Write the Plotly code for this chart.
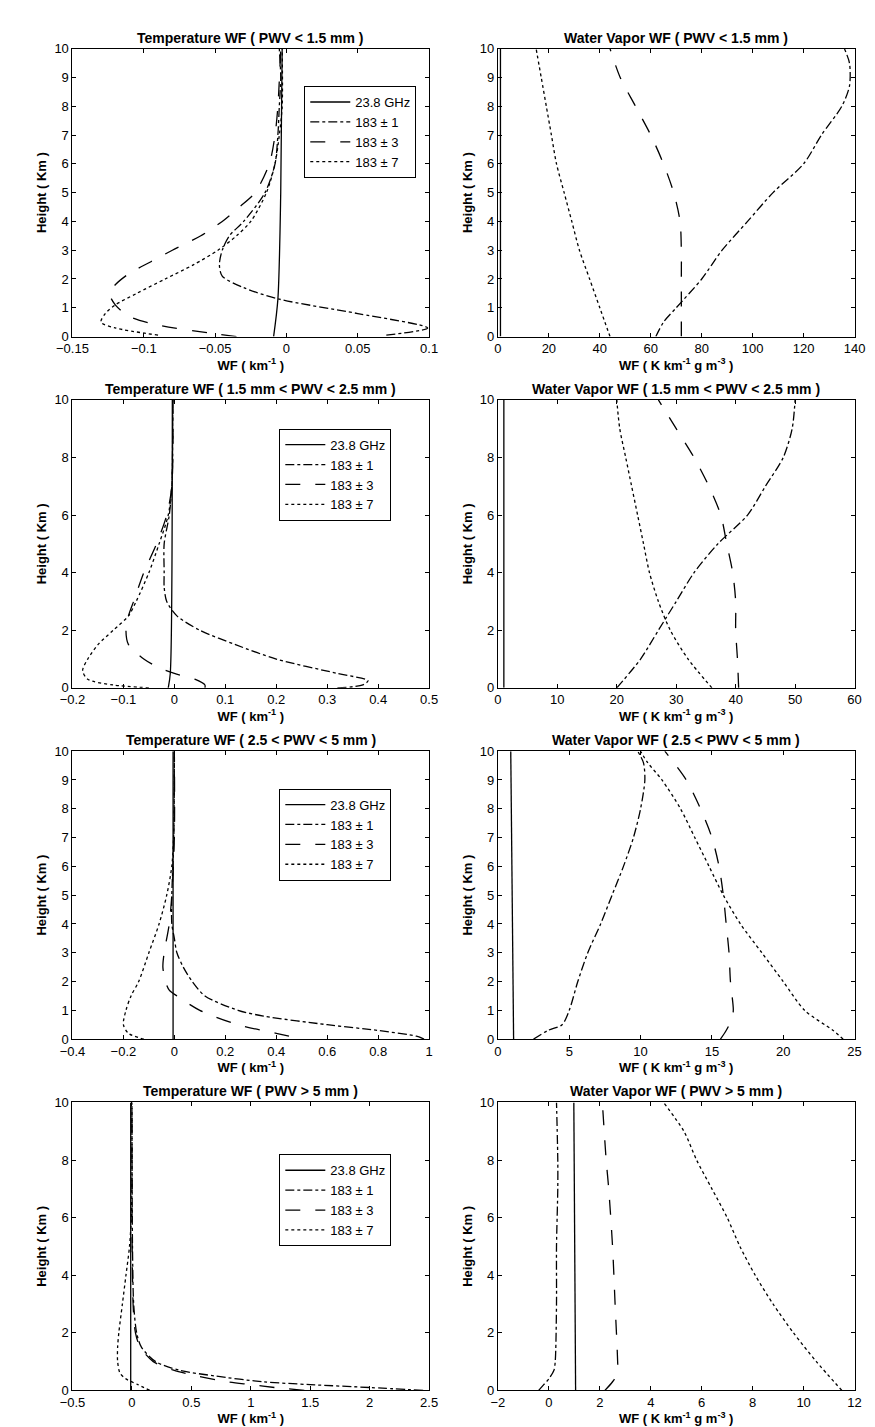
import plotly.graph_objects as go

W, H = 875, 1427
names = ["23.8 GHz", "183 ± 1", "183 ± 3", "183 ± 7"]
dashes = ["solid", "dashdot", "longdash", "dot"]

# ---- Row 1 temperature (PWV < 1.5 mm)
t1_h = {
 0: [0, 1.3, 5, 10],
 1: [0.05, 0.3, 0.8, 1.3, 1.7, 2.1, 2.5, 3, 3.5, 4, 5, 6, 7, 8, 9, 10],
 2: [0, 0.1, 0.4, 0.7, 1.1, 1.5, 1.8, 2.2, 2.6, 3, 3.5, 4, 4.5, 5, 6, 7, 8, 10],
 3: [0.05, 0.3, 0.5, 0.8, 1.1, 1.5, 2, 2.5, 3, 3.5, 4, 5, 6, 7, 8, 10]}
t1_x = {
 0: [-0.009, -0.006, -0.004, -0.003],
 1: [0.07, 0.099, 0.05, -0.005, -0.03, -0.045, -0.047, -0.045, -0.04, -0.03, -0.015, -0.008, -0.006, -0.005, -0.004, -0.005],
 2: [-0.035, -0.05, -0.09, -0.11, -0.12, -0.124, -0.12, -0.11, -0.095, -0.08, -0.06, -0.045, -0.033, -0.022, -0.012, -0.008, -0.006, -0.004],
 3: [-0.09, -0.12, -0.13, -0.127, -0.12, -0.105, -0.085, -0.065, -0.048, -0.035, -0.025, -0.014, -0.008, -0.005, -0.003, -0.003]}

# ---- Row 1 water vapor
w1_h = {
 0: [0, 10],
 1: [0, 0.5, 1, 2, 3, 4, 5, 6, 7, 8, 8.7, 9.5, 10],
 2: [0, 2, 3, 4, 5, 6, 7, 8, 9, 10],
 3: [0, 1, 2, 3, 4, 5, 6, 7, 8, 9, 10]}
w1_x = {
 0: [1, 1],
 1: [62, 65, 70, 80, 88, 98, 108, 120, 127, 135, 138, 138, 136],
 2: [72, 72, 72, 71.5, 69, 65, 60, 54, 48, 44],
 3: [44, 40, 36, 32, 29, 26, 23, 21, 19, 17, 15]}

# ---- Row 2 temperature (1.5 < PWV < 2.5)
t2_h = {
 0: [0, 0.5, 10],
 1: [0, 0.1, 0.25, 0.5, 1, 1.5, 2, 2.5, 3, 3.5, 4, 5, 6, 7, 10],
 2: [0, 0.1, 0.3, 0.5, 0.7, 1, 1.5, 2, 2.5, 3, 4, 5, 6, 7, 10],
 3: [0, 0.1, 0.3, 0.6, 1, 1.5, 2, 2.5, 3, 4, 5, 6, 7, 10]}
t2_x = {
 0: [-0.012, -0.008, -0.004],
 1: [0.32, 0.37, 0.38, 0.32, 0.2, 0.12, 0.05, 0.005, -0.015, -0.02, -0.02, -0.02, -0.01, -0.005, -0.003],
 2: [0.06, 0.06, 0.04, 0.0, -0.03, -0.06, -0.09, -0.095, -0.09, -0.08, -0.06, -0.035, -0.015, -0.005, -0.003],
 3: [-0.05, -0.12, -0.17, -0.18, -0.17, -0.15, -0.12, -0.09, -0.075, -0.05, -0.03, -0.012, -0.005, -0.003]}

# ---- Row 2 water vapor
hh = [0, 1, 2, 3, 4, 5, 6, 7, 8, 9, 10]
w2_h = {0: [0, 10], 1: hh, 2: hh, 3: hh}
w2_x = {
 0: [1, 1],
 1: [20, 24, 27, 30, 33, 37, 42, 45, 48, 49.5, 50],
 2: [40.5, 40.3, 40, 40, 39.5, 38.5, 37.5, 35.5, 33, 30, 27],
 3: [36, 32, 29, 27, 25.5, 24.5, 23.5, 22.5, 21.5, 20.5, 20]}

# ---- Row 3 temperature (2.5 < PWV < 5)
t3_h = {
 0: [0, 10],
 1: [0, 0.1, 0.3, 0.5, 0.8, 1, 1.5, 2, 2.5, 3, 3.5, 4, 5, 7, 10],
 2: [0.1, 0.2, 0.5, 1, 1.5, 1.7, 2, 2.5, 3, 4, 5, 7, 10],
 3: [0, 0.2, 0.5, 1, 1.5, 2, 3, 4, 5, 6, 7, 10]}
t3_x = {
 0: [-0.005, -0.005],
 1: [0.98, 0.95, 0.8, 0.6, 0.35, 0.25, 0.12, 0.07, 0.035, 0.01, 0.0, -0.01, -0.01, -0.002, 0],
 2: [0.45, 0.4, 0.25, 0.1, 0.01, -0.02, -0.035, -0.045, -0.04, -0.02, -0.01, 0, 0],
 3: [-0.12, -0.18, -0.2, -0.19, -0.17, -0.14, -0.1, -0.06, -0.03, -0.01, -0.003, 0]}

# ---- Row 3 water vapor
w3_h = {
 0: [0, 10],
 1: [0, 0.3, 0.5, 1, 2, 3, 4, 5, 6, 7, 8, 9, 9.6, 10],
 2: [0, 0.3, 0.7, 1, 2, 3, 4, 5, 6, 7, 8, 9, 10],
 3: [0, 0.3, 1, 2, 3, 4, 5, 6, 7, 8, 9, 9.6, 10]}
w3_x = {
 0: [1.1, 0.9],
 1: [2.5, 3.5, 4.5, 5, 5.6, 6.3, 7.2, 8.0, 8.8, 9.5, 10, 10.3, 10.2, 9.8],
 2: [15.6, 16, 16.4, 16.5, 16.3, 16.2, 16, 15.8, 15.5, 15, 14.2, 13.2, 11.7],
 3: [24.2, 23.5, 21.5, 20, 18.5, 17, 15.8, 14.8, 13.8, 12.8, 11.5, 10.5, 10]}

# ---- Row 4 temperature (PWV > 5)
t4_h = {
 0: [0, 10],
 1: [0, 0.1, 0.2, 0.3, 0.5, 0.7, 1, 1.5, 2, 3, 5, 10],
 2: [0, 0.1, 0.2, 0.3, 0.5, 0.7, 1, 1.5, 2, 3, 10],
 3: [0, 0.2, 0.4, 0.6, 1, 1.5, 2, 3, 4, 5, 6, 7, 10]}
t4_x = {
 0: [-0.01, -0.01],
 1: [2.45, 2.0, 1.5, 1.1, 0.7, 0.4, 0.2, 0.08, 0.04, 0.015, 0.005, 0],
 2: [1.45, 1.2, 1.0, 0.8, 0.55, 0.35, 0.18, 0.07, 0.03, 0.01, 0],
 3: [0.15, 0.05, -0.05, -0.1, -0.12, -0.12, -0.11, -0.08, -0.05, -0.02, -0.005, 0, 0]}

# ---- Row 4 water vapor
w4_h = {
 0: [0, 10],
 1: [0, 0.2, 0.4, 0.7, 1, 3, 5, 7, 8, 10],
 2: [0, 0.3, 0.6, 1, 3, 5, 7, 8, 10],
 3: hh}
w4_x = {
 0: [1.05, 0.98],
 1: [-0.4, -0.2, 0.0, 0.2, 0.25, 0.3, 0.3, 0.35, 0.35, 0.3],
 2: [2.2, 2.5, 2.7, 2.7, 2.6, 2.5, 2.35, 2.25, 2.1],
 3: [11.5, 10.5, 9.6, 8.8, 8.1, 7.5, 7.0, 6.4, 5.8, 5.3, 4.5]}

titles_t = ["Temperature WF ( PWV < 1.5 mm )", "Temperature WF ( 1.5 mm < PWV < 2.5 mm )",
            "Temperature WF ( 2.5 < PWV < 5 mm )", "Temperature WF ( PWV > 5 mm )"]
titles_w = ["Water Vapor WF ( PWV < 1.5 mm )", "Water Vapor WF ( 1.5 mm < PWV < 2.5 mm )",
            "Water Vapor WF ( 2.5 < PWV < 5 mm )", "Water Vapor WF ( PWV > 5 mm )"]
t_ranges = [[-0.15, 0.1], [-0.2, 0.5], [-0.4, 1], [-0.5, 2.5]]
t_dticks = [0.05, 0.1, 0.2, 0.5]
w_ranges = [[0, 140], [0, 60], [0, 25], [-2, 12]]
w_dticks = [20, 10, 5, 2]
y_dticks = [1, 2, 1, 2]
leg_x = [0.65, 0.58, 0.58, 0.58]
leg_y = [0.87, 0.9, 0.87, 0.82]

temp_data = [(t1_h, t1_x), (t2_h, t2_x), (t3_h, t3_x), (t4_h, t4_x)]
wv_data = [(w1_h, w1_x), (w2_h, w2_x), (w3_h, w3_x), (w4_h, w4_x)]

fig = go.Figure()
FONT = "Liberation Sans, Arial, sans-serif"
xl = [50 / W, 418 / W]
xr = [489 / W, 857 / W]
annotations = []

def axis_common():
    return dict(showline=True, linecolor="black", linewidth=1, mirror="ticks",
                ticks="inside", ticklen=4, tickcolor="black", showgrid=False,
                zeroline=False, tickfont=dict(size=13, color="black", family=FONT))

for r in range(4):
    T = 34 + 355 * r
    B = T + 291
    yd = [1 - B / H, 1 - T / H]
    for c in range(2):
        idx = 2 * r + c + 1
        xa = "x" if idx == 1 else f"x{idx}"
        ya = "y" if idx == 1 else f"y{idx}"
        hd, xd = (temp_data if c == 0 else wv_data)[r]
        leg = "legend" if r == 0 else f"legend{r + 1}"
        for k in range(4):
            fig.add_trace(go.Scatter(
                x=xd[k], y=hd[k], mode="lines", name=names[k],
                line=dict(color="black", width=1.3, dash=dashes[k], shape="spline", smoothing=0.8),
                xaxis=xa, yaxis=ya, legend=leg, showlegend=(c == 0)))
        xt = ("WF ( km<sup>-1</sup> )" if c == 0 else "WF ( K km<sup>-1</sup> g m<sup>-3</sup> )")
        xk = dict(axis_common(), domain=xl if c == 0 else xr, anchor=ya,
                  range=t_ranges[r] if c == 0 else w_ranges[r],
                  dtick=t_dticks[r] if c == 0 else w_dticks[r],
                  title=dict(text=f"<b>{xt}</b>", font=dict(size=13, family=FONT, color="black"), standoff=0))
        yk = dict(axis_common(), domain=yd, anchor=xa, range=[0, 10], dtick=y_dticks[r],
                  title=dict(text="<b>Height ( Km )</b>", font=dict(size=13, family=FONT, color="black"), standoff=4))
        fig.layout["xaxis" if idx == 1 else f"xaxis{idx}"] = xk
        fig.layout["yaxis" if idx == 1 else f"yaxis{idx}"] = yk
        dom = xl if c == 0 else xr
        annotations.append(dict(text=f"<b>{(titles_t if c == 0 else titles_w)[r]}</b>",
                                x=(dom[0] + dom[1]) / 2, y=yd[1], xref="paper", yref="paper",
                                xanchor="center", yanchor="bottom", yshift=1, showarrow=False,
                                font=dict(size=14, family=FONT, color="black")))
    lx0 = xl[0] + leg_x[r] * (xl[1] - xl[0])
    ly = yd[0] + leg_y[r] * (yd[1] - yd[0])
    fig.layout["legend" if r == 0 else f"legend{r + 1}"] = dict(
        x=lx0, y=ly, xanchor="left", yanchor="top", bgcolor="white",
        bordercolor="black", borderwidth=1, font=dict(size=13, family=FONT, color="black"),
        tracegroupgap=0, itemwidth=40)

fig.update_layout(width=W, height=H, margin=dict(l=0, r=0, t=0, b=0),
                  paper_bgcolor="white", plot_bgcolor="white", annotations=annotations)
fig.write_html("out.html")
